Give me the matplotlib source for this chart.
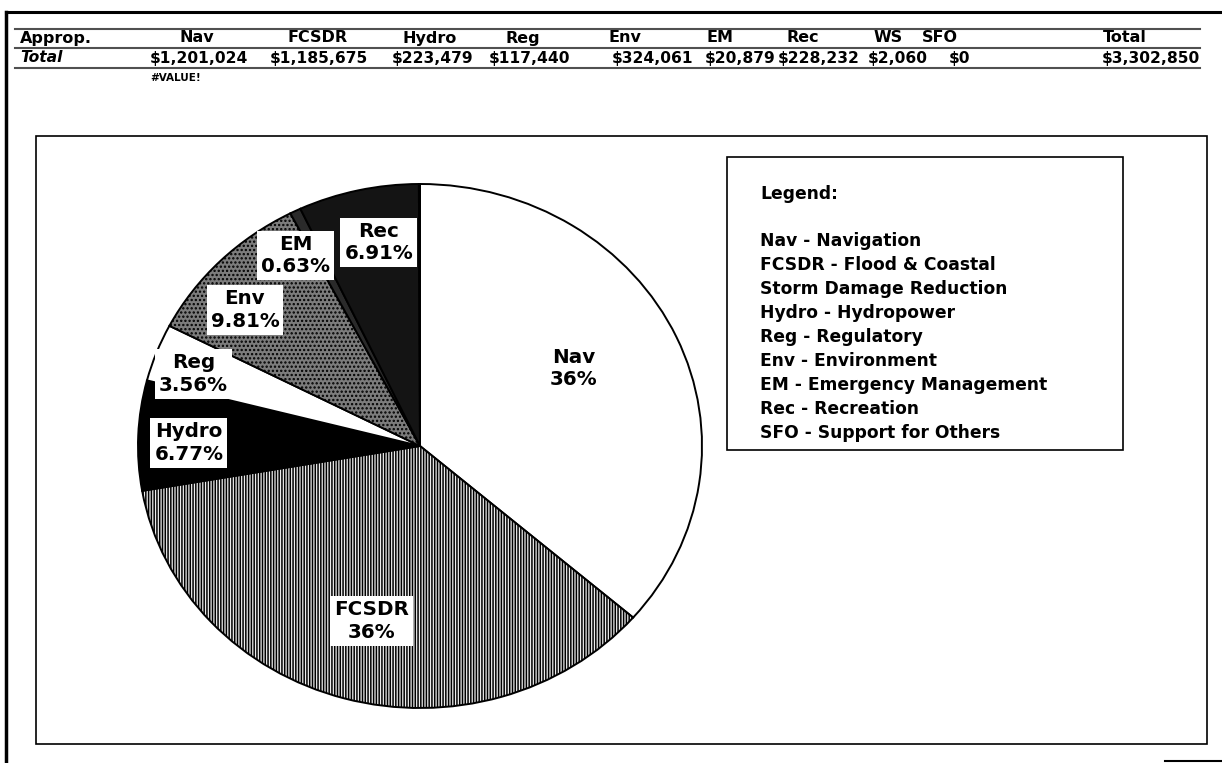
import matplotlib
matplotlib.use("Agg")
import matplotlib.pyplot as plt
from matplotlib.patches import Rectangle
import numpy as np

# ---------------- data ----------------
categories = ["Nav", "FCSDR", "Hydro", "Reg", "Env", "EM", "Rec", "WS", "SFO"]
amounts = [1201024, 1185675, 223479, 117440, 324061, 20879, 228232, 2060, 0]
total_amount = 3302850
pie_labels = ["Nav\n36%", "FCSDR\n36%", "Hydro\n6.77%", "Reg\n3.56%",
              "Env\n9.81%", "EM\n0.63%", "Rec\n6.91%", "", ""]
legend_lines = ["Nav - Navigation", "FCSDR - Flood & Coastal",
                "Storm Damage Reduction", "Hydro - Hydropower",
                "Reg - Regulatory", "Env - Environment",
                "EM - Emergency Management", "Rec - Recreation",
                "SFO - Support for Others"]

# ---------------- style ----------------
W, H = 1222, 763
DPI = 100
face = ["white", "#ededed", "black", "white", "#7c7c7c", "#2a2a2a", "#141414", "#141414", "#141414"]
hatch = [None, "||||||", None, None, "....", None, None, None, None]
label_dist = [0.62, 0.69, 0.82, 0.85, 0.81, 0.85, 0.79]
label_dang = [4, 1, 1.5, 2, 5, 5, -2]

plt.rcParams["hatch.linewidth"] = 1.1
plt.rcParams["hatch.color"] = "black"

fig = plt.figure(figsize=(W / DPI, H / DPI), dpi=DPI)
fig.patch.set_facecolor("white")

# overlay axes in pixel coordinates (y downward)
ov = fig.add_axes([0, 0, 1, 1], zorder=0)
ov.set_xlim(0, W)
ov.set_ylim(H, 0)
ov.axis("off")

# outer frame
ov.plot([6, W], [12, 12], color="black", lw=2.2)
ov.plot([6, 6], [12, H], color="black", lw=2.5)
ov.plot([1165, W], [761, 761], color="black", lw=1.5)

# table
header_font = dict(family="DejaVu Sans", weight="bold", fontsize=11.5)
value_font = dict(family="DejaVu Sans", weight="bold", fontsize=11.2)
ov.text(20, 38, "Approp.", ha="left", va="center", **header_font)
header_x = [197, 318, 430, 523, 625, 720, 803, 888, 940]
for name, x in zip(categories, header_x):
    ov.text(x, 38, name, ha="center", va="center", **header_font)
ov.text(1125, 38, "Total", ha="center", va="center", **header_font)

ov.text(20, 58, "Total", ha="left", va="center", style="italic",
        family="DejaVu Sans", weight="bold", fontsize=11.2)
value_right = [248, 368, 473, 570, 693, 776, 860, 928, 970]
for amt, x in zip(amounts, value_right):
    ov.text(x, 58, "${:,}".format(amt), ha="right", va="center", **value_font)
ov.text(1200, 58, "${:,}".format(total_amount), ha="right", va="center", **value_font)
ov.text(150, 78, "#VALUE!", ha="left", va="center", family="DejaVu Sans",
        weight="bold", fontsize=7.5)
for yy in (29, 48, 68):
    ov.plot([15, 1200], [yy, yy], color="#505050", lw=1.5)

# chart area border
ov.add_patch(Rectangle((36, 136), 1207 - 36, 744 - 136, fill=False,
                       edgecolor="black", lw=1.2))

# legend box
ov.add_patch(Rectangle((727, 157), 1123 - 727, 450 - 157, fill=False,
                       edgecolor="black", lw=1.2))
leg_font = dict(family="DejaVu Sans", weight="bold", fontsize=12.3)
ov.text(760, 194, "Legend:", ha="left", va="center", **leg_font)
for i, line in enumerate(legend_lines):
    ov.text(760, 241 + i * 24.0, line, ha="left", va="center", **leg_font)

# ---------------- pie ----------------
cx, cy, rx, ry = 420, 446, 282, 262
ax = fig.add_axes([(cx - rx) / W, (H - cy - ry) / H, 2 * rx / W, 2 * ry / H], zorder=2)
wedges, _ = ax.pie(amounts, startangle=90, counterclock=False, colors=face,
                   wedgeprops=dict(edgecolor="black", linewidth=1.4))
for w, h in zip(wedges, hatch):
    if h:
        w.set_hatch(h)
ax.set_aspect("auto")
ax.set_xlim(-1, 1)
ax.set_ylim(-1, 1)
ax.axis("off")

for i, w in enumerate(wedges[:7]):
    mid = np.deg2rad((w.theta1 + w.theta2) / 2 + label_dang[i])
    d = label_dist[i]
    bbox = None if i == 0 else dict(boxstyle="square,pad=0.2", facecolor="white", edgecolor="none")
    ax.text(d * np.cos(mid), d * np.sin(mid), pie_labels[i], ha="center", va="center",
            family="DejaVu Sans", weight="bold", fontsize=14.3, linespacing=1.25,
            bbox=bbox, zorder=5)

fig.savefig("out.png", dpi=DPI, facecolor="white")
